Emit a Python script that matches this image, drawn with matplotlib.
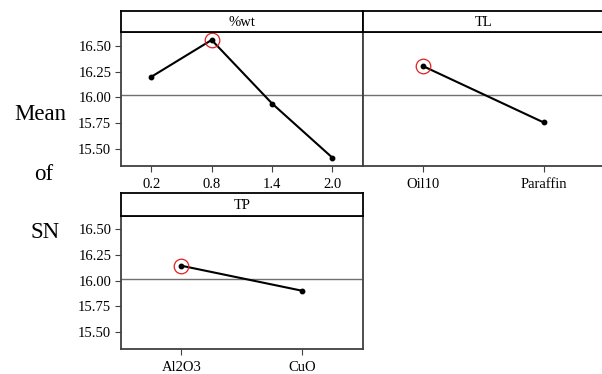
import matplotlib
matplotlib.use("Agg")
import matplotlib.pyplot as plt
import numpy as np

plt.rcParams['font.family'] = ['Liberation Serif', 'DejaVu Serif']

# ---- data ----
wt_levels = ['0.2', '0.8', '1.4', '2.0']
wt_means = [16.20, 16.56, 15.94, 15.41]
tl_levels = ['Oil10', 'Paraffin']
tl_means = [16.305, 15.755]
tp_levels = ['Al2O3', 'CuO']
tp_means = [16.145, 15.90]
grand_mean = 16.02
y_ticks = [15.50, 15.75, 16.00, 16.25, 16.50]
ylim = (15.33, 16.635)

W, H = 602, 374
fig = plt.figure(figsize=(W / 100, H / 100), dpi=100)

frame_col = '#404040'


def px_axes(x0, y0, x1, y1):
    return fig.add_axes([x0 / W, 1 - y1 / H, (x1 - x0) / W, (y1 - y0) / H])


def panel(x0, x1, ytop_strip, ytop, ybot, title, levels, means, show_y):
    ax = px_axes(x0, ytop, x1, ybot)
    xs = np.arange(len(levels))
    ax.axhline(grand_mean, color='#707070', lw=1.0, zorder=1)
    ax.plot(xs, means, color='black', lw=1.5, marker='o', ms=3.2, zorder=3)
    imax = int(np.argmax(means))
    ax.plot([xs[imax]], [means[imax]], linestyle='none', marker='o', ms=10.5,
            mfc='none', mec='#e02020', mew=0.9, zorder=4)
    ax.set_xlim(-0.5, len(levels) - 0.5)
    ax.set_ylim(*ylim)
    ax.set_xticks(xs)
    ax.set_xticklabels(levels)
    ax.set_yticks(y_ticks)
    if show_y:
        ax.set_yticklabels([f'{v:.2f}' for v in y_ticks])
        ax.tick_params(axis='y', length=4, width=0.8, color=frame_col,
                       labelsize=10.5, pad=3)
    else:
        ax.tick_params(axis='y', left=False, labelleft=False)
    ax.tick_params(axis='x', length=4.5, width=0.8, color=frame_col,
                   labelsize=10.5, pad=4)
    for sp in ax.spines.values():
        sp.set_color(frame_col)
        sp.set_linewidth(1.3)
    # strip
    sa = px_axes(x0, ytop_strip, x1, ytop)
    sa.set_xticks([])
    sa.set_yticks([])
    for sp in sa.spines.values():
        sp.set_color('black')
        sp.set_linewidth(1.3)
    sa.text(0.5, 0.45, title, ha='center', va='center', fontsize=10.5,
            transform=sa.transAxes)
    return ax


panel(121, 362.7, 11, 32.3, 166, '%wt', wt_levels, wt_means, True)
panel(362.7, 604, 11, 32.3, 166, 'TL', tl_levels, tl_means, False)
panel(121, 362.7, 193, 215.7, 349, 'TP', tp_levels, tp_means, True)

fig.text(40 / W, 1 - 114 / H, 'Mean', ha='center', va='center', fontsize=16.5)
fig.text(43.5 / W, 1 - 174 / H, 'of', ha='center', va='center', fontsize=16.5)
fig.text(45 / W, 1 - 232 / H, 'SN', ha='center', va='center', fontsize=16.5)

fig.savefig('out.png', dpi=100)
